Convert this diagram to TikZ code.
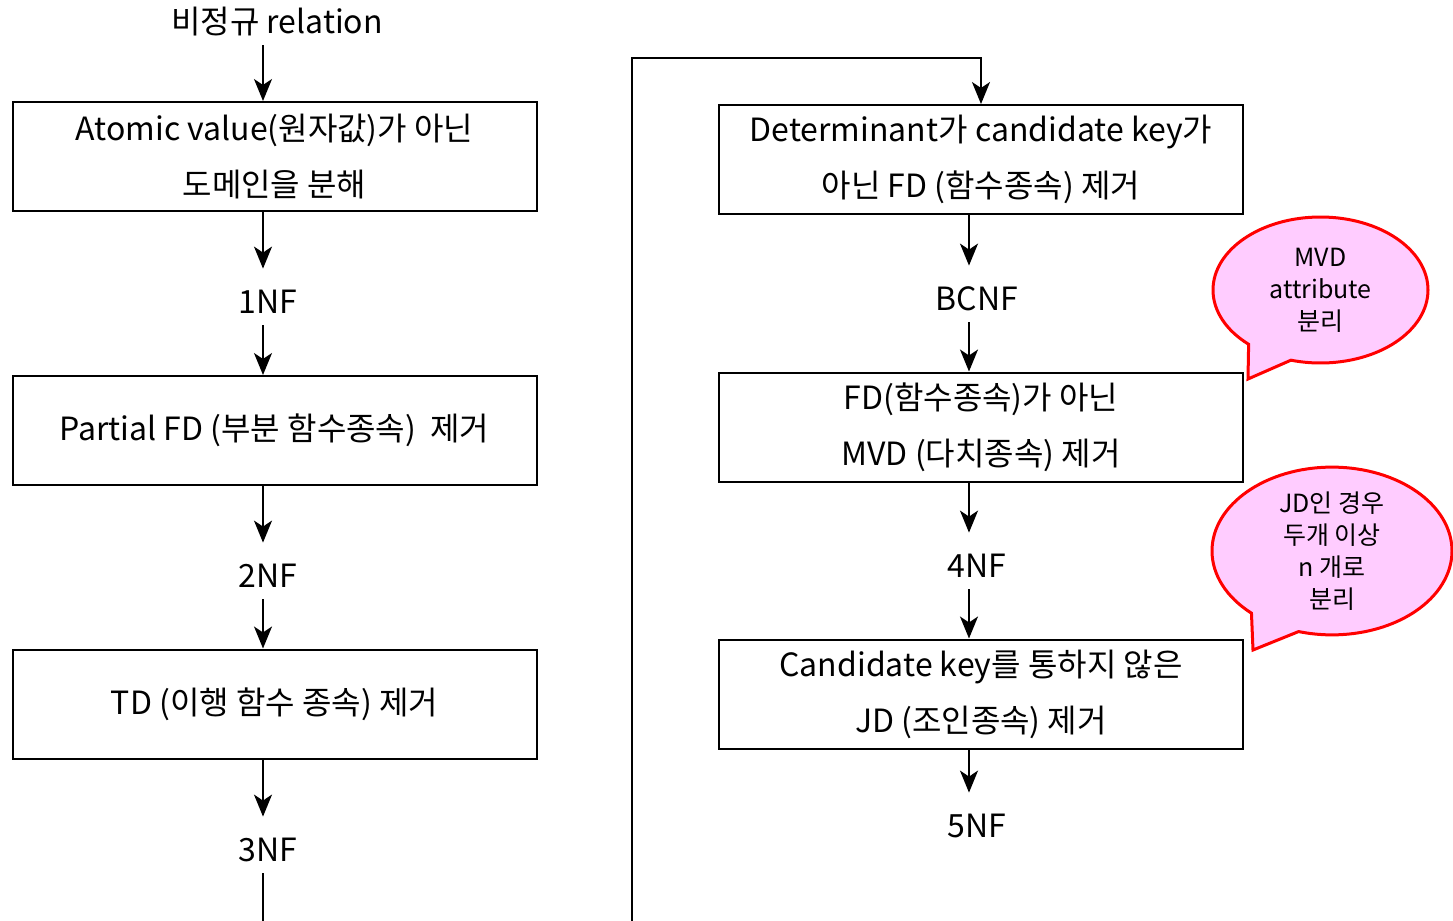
\documentclass[tikz,border=0pt]{standalone}
\usepackage{fontspec}
\setmainfont{Noto Sans CJK KR}
\usetikzlibrary{arrows.meta,shapes.callouts}
\definecolor{memopink}{HTML}{FFCCFF}

\begin{document}
\begin{tikzpicture}[x=0.5pt,y=-0.5pt,
		every node/.style={font=\fontsize{16}{28}\selectfont},
		stage/.style={draw,line width=1pt,minimum width=262pt,minimum height=54.5pt,inner sep=0pt,align=center},
		nf/.style={inner sep=0pt,anchor=base,text height=22pt,text depth=6pt},
		flow/.style={line width=1pt,-{Stealth[length=11pt,width=9pt,inset=3pt]}},
		memo/.style={ellipse callout,draw=red,line width=1.5pt,fill=memopink,callout pointer arc=26,inner sep=0pt,align=center,font=\fontsize{12.5}{16}\selectfont}]
	\useasboundingbox (0,0) rectangle (1453,921);
	\coordinate (lcol) at (263,0);
	\coordinate (rcol) at (969,0);
	% left column
	\node[nf] (start) at (277,33) {비정규 relation};
	\node[stage] (b1) at (274.5,156.5) {Atomic value(원자값)가 아닌\\도메인을 분해};
	\node[nf] (n1) at (268,313) {1NF};
	\node[stage] (b2) at (274.5,430.5) {Partial FD (부분 함수종속)~ 제거};
	\node[nf] (n2) at (268,587) {2NF};
	\node[stage] (b3) at (274.5,704) {TD (이행 함수 종속) 제거};
	\node[nf] (n3) at (268,861) {3NF};
	% right column
	\node[stage] (b4) at (981,159.5) {Determinant가 candidate key가\\아닌 FD (함수종속) 제거};
	\node[nf] (bcnf) at (977,310) {BCNF};
	\node[stage] (b5) at (981,427) {FD(함수종속)가 아닌\\MVD (다치종속) 제거};
	\node[nf] (n4) at (977,577) {4NF};
	\node[stage] (b6) at (981,694) {Candidate key를 통하지 않은\\JD (조인종속) 제거};
	\node[nf] (n5) at (977,837) {5NF};
	% notes
	\node[memo,minimum width=107.5pt,minimum height=73pt,callout absolute pointer={(1248,379)}] (m1) at (1320.5,290) {MVD\\attribute\\분리};
	\node[memo,minimum width=120pt,minimum height=80pt,callout absolute pointer={(1253,650)}] (m2) at (1332,551) {JD인 경우\\두개 이상\\n 개로\\분리};
	% arrows
	\draw[flow] (start.south -| lcol) -- (b1.north -| lcol);
	\draw[flow] (b1.south -| lcol) -- (n1.north -| lcol);
	\draw[flow] (n1.south -| lcol) -- (b2.north -| lcol);
	\draw[flow] (b2.south -| lcol) -- (n2.north -| lcol);
	\draw[flow] (n2.south -| lcol) -- (b3.north -| lcol);
	\draw[flow] (b3.south -| lcol) -- (n3.north -| lcol);
	\coordinate (bot1) at (263,921);
	\coordinate (bot2) at (632,921);
	\coordinate (turn) at (632,58);
	\draw[line width=1pt] (n3.south -| lcol) -- (bot1);
	\draw[flow] (bot2) -- (turn) -| (b4.north);
	\draw[flow] (b4.south -| rcol) -- (bcnf.north -| rcol);
	\draw[flow] (bcnf.south -| rcol) -- (b5.north -| rcol);
	\draw[flow] (b5.south -| rcol) -- (n4.north -| rcol);
	\draw[flow] (n4.south -| rcol) -- (b6.north -| rcol);
	\draw[flow] (b6.south -| rcol) -- (n5.north -| rcol);
\end{tikzpicture}
\end{document}
